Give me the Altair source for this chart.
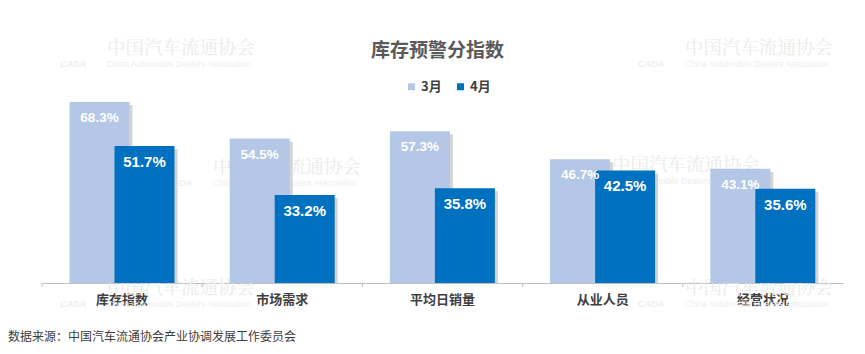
import altair as alt
import pandas as pd

categories = ["库存指数", "市场需求", "平均日销量", "从业人员", "经营状况"]
months = ["3月", "4月"]
march = [68.3, 54.5, 57.3, 46.7, 43.1]
april = [51.7, 33.2, 35.8, 42.5, 35.6]

rows = []
for c, m, a in zip(categories, march, april):
    rows.append({"cat": c, "month": "3月", "value": m, "label": f"{m:.1f}%"})
    rows.append({"cat": c, "month": "4月", "value": a, "label": f"{a:.1f}%"})
df = pd.DataFrame(rows)

W, H = 801, 212
PL, PT = 42, 71
CJK = "Noto Sans CJK SC"
NUM = "Liberation Sans, Arial, sans-serif"

x = alt.X("cat:N", sort=categories,
          scale=alt.Scale(paddingInner=0, paddingOuter=0),
          axis=alt.Axis(title=None, labelAngle=0, labelFontSize=13, labelFontWeight="bold",
                        labelColor="#404040", labelFont=CJK, domainColor="#bfbfbf",
                        ticks=False, labelPadding=10, grid=False))
xo = alt.XOffset("month:N", sort=months,
                 scale=alt.Scale(domain=months, range=[35, 125], paddingInner=0, paddingOuter=0))
xo_sh = alt.XOffset("month:N", sort=months,
                    scale=alt.Scale(domain=months, range=[38, 128], paddingInner=0, paddingOuter=0))
y = alt.Y("value:Q", scale=alt.Scale(domain=[0, 80]), axis=None)
color = alt.Color("month:N", sort=months,
                  scale=alt.Scale(domain=months, range=["#B4C7E7", "#0070C0"]),
                  legend=alt.Legend(title=None, orient="none", legendX=363, legendY=9,
                                    direction="horizontal", symbolType="square", symbolSize=49,
                                    symbolStrokeWidth=0, labelFontSize=13, labelFontWeight="bold",
                                    labelColor="#404040", labelFont=CJK, labelOffset=3,
                                    columnPadding=12))

base = alt.Chart(df)

# watermarks (decoration)
wm_x = [107, 685, 213, 612, 107, 685]
wm_y = [48, 48, 167, 165, 288, 288]
one = pd.DataFrame({"a": [0]})
wm_layers = []
for wx, wy in zip(wm_x, wm_y):
    wm_layers.append(alt.Chart(one).mark_text(
        text="中国汽车流通协会", font="Noto Serif CJK SC, serif", fontSize=18.5, color="#ebebeb",
        align="left", baseline="middle").encode(x=alt.value(wx - PL), y=alt.value(wy - PT)))
    wm_layers.append(alt.Chart(one).mark_text(
        text="China Automobile Dealers Association", font="Liberation Sans, Arial", fontSize=8.5,
        color="#eeeeee", align="left", baseline="middle").encode(x=alt.value(wx - PL), y=alt.value(wy + 16 - PT)))
    wm_layers.append(alt.Chart(one).mark_text(
        text="CADA", font="Liberation Sans, Arial", fontSize=9, fontStyle="italic", fontWeight="bold",
        color="#eeeeee", align="left", baseline="middle").encode(x=alt.value(wx - 47 - PL), y=alt.value(wy + 16 - PT)))

shadow = base.mark_bar(width=60, color="#d4d4d4", yOffset=3, clip=True).encode(x=x, xOffset=xo_sh, y=y)
bars = base.mark_bar(width=60).encode(x=x, xOffset=xo, y=y, color=color)

lab3 = base.transform_filter(alt.datum.month == "3月").mark_text(
    font=NUM, fontSize=13.5, fontWeight="bold", color="white", dy=16, baseline="middle"
).encode(x=x, xOffset=xo, y=y, text="label:N")
lab4 = base.transform_filter(alt.datum.month == "4月").mark_text(
    font=NUM, fontSize=15, fontWeight="bold", color="white", dy=16, baseline="middle"
).encode(x=x, xOffset=xo, y=y, text="label:N")

ticks = alt.Chart(pd.DataFrame({"cat": categories})).mark_rule(color="#bfbfbf").encode(
    x=alt.X("cat:N", sort=categories, bandPosition=0), y=alt.value(H), y2=alt.value(H + 4))

title = alt.Chart(one).mark_text(
    text="库存预警分指数", font=CJK, fontSize=19, fontWeight="bold", color="#595959",
    align="center", baseline="middle").encode(x=alt.value(437.5 - PL), y=alt.value(51 - PT))
source = alt.Chart(one).mark_text(
    text="数据来源：中国汽车流通协会产业协调发展工作委员会", font=CJK, fontSize=12, color="#404040",
    align="left", baseline="middle").encode(x=alt.value(8 - PL), y=alt.value(337 - PT))

back = alt.layer(*wm_layers, shadow)
front = alt.layer(bars, lab3, lab4, ticks, title, source)

chart = alt.layer(back, front).resolve_scale(
    xOffset="independent"
).properties(
    width=W, height=H,
    autosize=alt.AutoSizeParams(type="none"),
    padding={"left": PL, "top": PT, "right": 865 - PL - W, "bottom": 354 - PT - H},
    background="white",
).configure_view(stroke=None)

chart.save("out.html", embed_options={"renderer": "svg", "actions": False})
